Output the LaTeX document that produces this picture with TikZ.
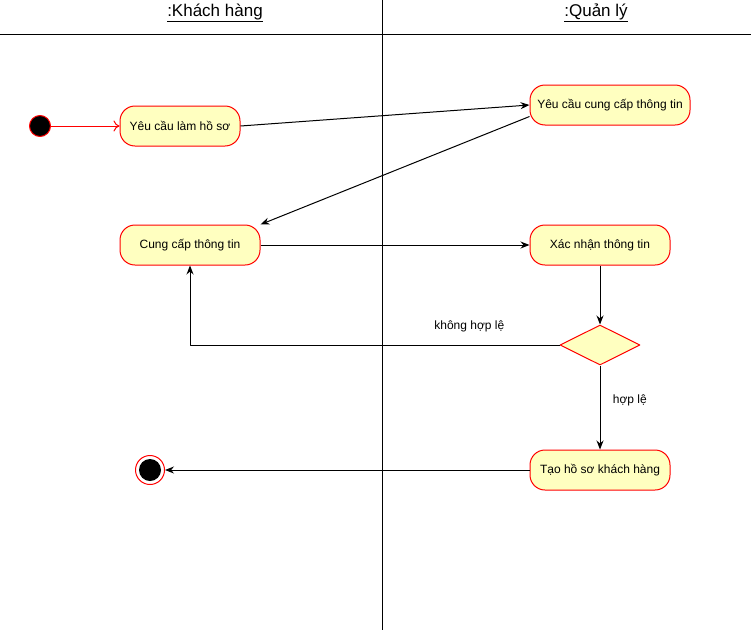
\documentclass[tikz,border=0pt]{standalone}
\usepackage{fontspec}
\setmainfont{Liberation Sans}
\usetikzlibrary{shapes.geometric,arrows.meta}
\definecolor{actfill}{HTML}{FFFFC0}
\begin{document}
\begin{tikzpicture}[x=1pt, y=-1pt, line width=1pt, line join=round, >={Stealth[length=9pt,width=7pt]},
		act/.style={draw=red, fill=actfill, rounded corners=15pt, minimum height=40pt, inner sep=0pt, font=\fontsize{12}{14}\selectfont},
		decide/.style={diamond, draw=red, fill=actfill, minimum width=80pt, minimum height=40pt, inner sep=0pt},
		startdot/.style={circle, draw=red, fill=black, minimum size=21pt, inner sep=0pt},
		endring/.style={circle, draw=red, fill=white, minimum size=29pt, inner sep=0pt},
		lane/.style={font=\fontsize{17}{20}\selectfont},
		guard/.style={font=\fontsize{12}{14}\selectfont}]
	\useasboundingbox (0,0) rectangle (751,632);
	% swimlanes
	\draw (382,0)--(382,630);
	\draw (0,34)--(751,34);
	\node[lane] (kh) at (215,13) {\underline{:Khách hàng}};
	\node[lane] (ql) at (596,13) {\underline{:Quản lý}};
	% activities
	\node[startdot] (bd) at (40,126) {};
	\node[act, minimum width=120pt] (lamhs) at (180,126) {Yêu cầu làm hồ sơ};
	\node[act, minimum width=160pt] (yccc) at (610,105) {Yêu cầu cung cấp thông tin};
	\node[act, minimum width=140pt] (cctt) at (190,245) {Cung cấp thông tin};
	\node[act, minimum width=140pt] (xntt) at (600,245) {Xác nhận thông tin};
	\node[decide] (kt) at (600,345) {};
	\node[act, minimum width=140pt] (taohs) at (600,470) {Tạo hồ sơ khách hàng};
	\node[endring] (kt2) at (150,470) {};
	\fill (kt2) circle (11);
	% flows
	\draw[red, -{To[length=6pt,width=11pt]}] (bd) -- (lamhs);
	\draw[->] (lamhs.east) -- (yccc.west);
	\draw[->] (yccc.south west) ++(0,-9) coordinate (y1) (y1) -- (cctt.north east);
	\draw[->] (cctt) -- (xntt);
	\draw[->] (xntt) -- (kt);
	\draw[->] (kt.west) -| (cctt.south) node[guard, pos=0.122, above=9pt] {không hợp lệ};
	\draw[->] (kt.south) -- (taohs.north) node[guard, pos=0.42, right=9pt] {hợp lệ};
	\draw[->] (taohs) -- (kt2);
\end{tikzpicture}
\end{document}
